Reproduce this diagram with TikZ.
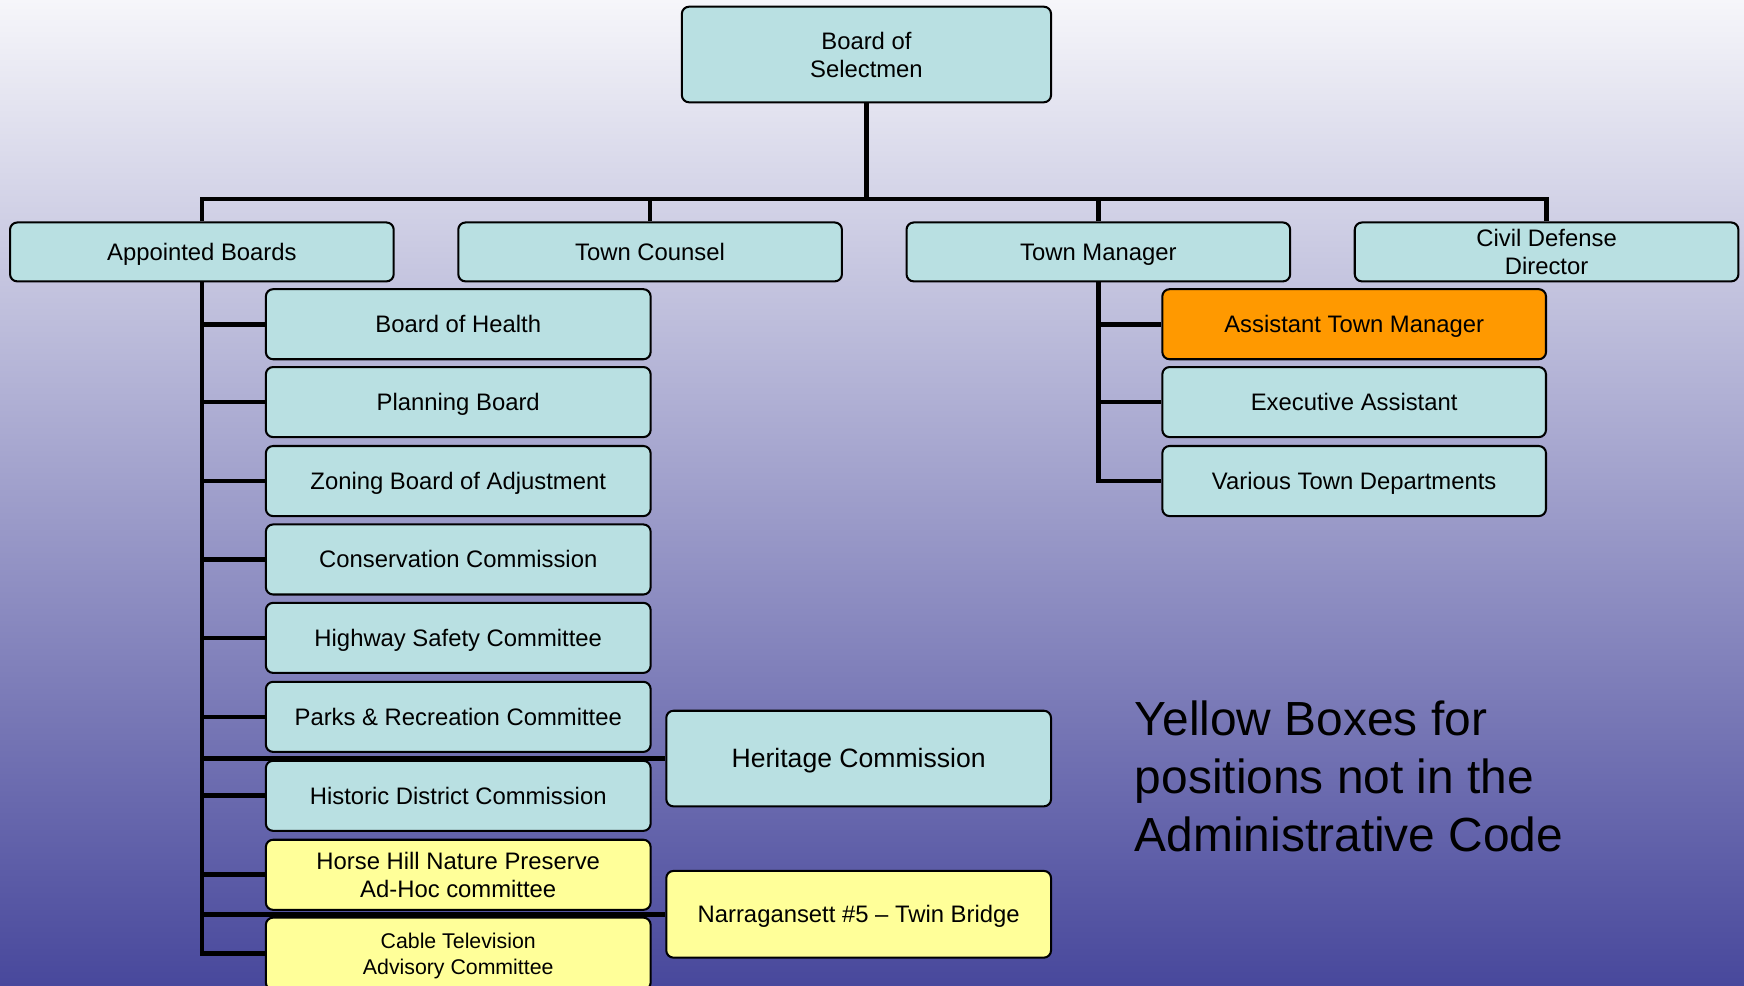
\documentclass[tikz,border=0pt]{standalone}
\usepackage{fontspec}
\setmainfont{Liberation Sans}
\usetikzlibrary{backgrounds}
\pgfdeclarelayer{bgshade}
\pgfdeclarelayer{conn}
\pgfsetlayers{bgshade,conn,main}
\definecolor{bgtop}{RGB}{246,246,250}
\definecolor{bgmid}{RGB}{174,174,205}
\definecolor{bgbot}{RGB}{72,72,156}
\definecolor{teal}{RGB}{185,224,226}
\definecolor{orangebox}{RGB}{255,153,0}
\definecolor{yellowbox}{RGB}{255,255,153}
\newcommand\bxstrut{\rule[-0.212em]{0pt}{1.117em}}
\newcommand\topstrut{\rule{0pt}{0.95em}}
\tikzset{
  box/.style={draw=black, line width=1.05pt, rounded corners=0.13cm, fill=teal,
    align=center, inner sep=0pt, font=\fontsize{12.2}{14.6}\selectfont,
    execute at begin node=\bxstrut},
  topbox/.style={box, minimum width=6.9cm, minimum height=1.06cm},
  colbox/.style={box, minimum width=6.92cm, minimum height=1.26cm},
  tmbox/.style={box, minimum width=6.9cm, minimum height=1.26cm},
  ybox/.style={fill=yellowbox},
  conn/.style={draw=black, line width=2.4pt, line join=miter},
}
\begin{document}
\begin{tikzpicture}[x=0.02cm, y=-0.02cm]
\useasboundingbox (0,0) rectangle (1568,886);
\begin{pgfonlayer}{bgshade}
\shade[top color=bgtop, middle color=bgmid, bottom color=bgbot] (0,0) rectangle (1568,886);
\end{pgfonlayer}
\begin{scope}
\clip (0,0) rectangle (1568,886);
% top
\node[box, minimum width=6.64cm, minimum height=1.72cm] (bos) at (779,49) {\topstrut Board of\\ Selectmen};
\node[topbox] (ab) at (181.5,226.5) {Appointed Boards};
\node[topbox] (tc) at (584.5,226.5) {Town Counsel};
\node[topbox] (tm) at (987.5,226.5) {Town Manager};
\node[topbox] (cd) at (1390.5,226.5) {\topstrut Civil Defense\\ Director};
\coordinate (bus) at (779,179);
% left column
\node[colbox] (boh) at (412,291.5) {Board of Health};
\node[colbox] (pb)  at (412,361.5) {Planning Board};
\node[colbox] (zba) at (412,432.5) {Zoning Board of Adjustment};
\node[colbox] (cc)  at (412,503) {Conservation Commission};
\node[colbox] (hsc) at (412,573.5) {Highway Safety Committee};
\node[colbox] (prc) at (412,644.5) {Parks \& Recreation Committee};
\node[colbox] (hdc) at (412,715.5) {Historic District Commission};
\node[colbox, ybox] (hh) at (412,786.5) {\topstrut Horse Hill Nature Preserve\\ Ad-Hoc committee};
\node[colbox, ybox, minimum height=1.3cm, font=\fontsize{10.9}{13.2}\selectfont] (ctv) at (412,857.5) {\topstrut Cable Television\\ Advisory Committee};
\node[box, minimum width=6.92cm, minimum height=1.72cm, font=\fontsize{13.6}{16}\selectfont] (her) at (772,682) {Heritage Commission};
\node[box, ybox, minimum width=6.92cm, minimum height=1.56cm] (nar) at (772,822) {Narragansett \#5 -- Twin Bridge};
% town manager column
\node[tmbox, fill=orangebox] (atm) at (1217.5,291.5) {Assistant Town Manager};
\node[tmbox] (ea)  at (1217.5,361.5) {Executive Assistant};
\node[tmbox] (vtd) at (1217.5,432.5) {Various Town Departments};
% note
\node[anchor=west, align=left, inner sep=0pt, font=\fontsize{24.5}{29.6}\selectfont] (note) at (1020,698)
  {Yellow Boxes for\\ positions not in the\\ Administrative Code};
% connectors
\begin{pgfonlayer}{conn}
\draw[conn] (bos.south) -- (bus);
\draw[conn] (ab.north) |- (bus);
\draw[conn] (tc.north) |- (bus);
\draw[conn] (tm.north) |- (bus);
\draw[conn] (cd.north) |- (bus);
\draw[conn] (ab.south) |- (ctv.west);
\foreach \n in {boh,pb,zba,cc,hsc,prc,hdc,hh,her,nar}
  \draw[conn] (ab.south |- \n.west) -- (\n.west);
\draw[conn] (tm.south) |- (vtd.west);
\foreach \n in {atm,ea}
  \draw[conn] (tm.south |- \n.west) -- (\n.west);
\end{pgfonlayer}
\end{scope}
\end{tikzpicture}
\end{document}
